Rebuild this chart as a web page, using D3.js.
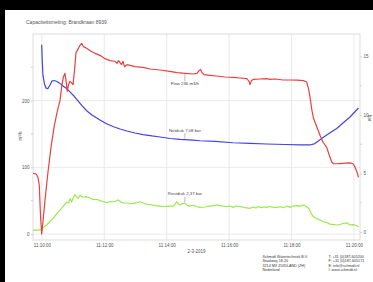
<!DOCTYPE html>
<html><head><meta charset="utf-8">
<script src="https://cdn.jsdelivr.net/npm/d3@7"></script>
<style>html,body{margin:0;padding:0;background:#000;}svg{display:block}</style>
</head><body>
<svg id="c" width="373" height="282"></svg>
<script>
// ---------- data ----------
const title = "Capaciteitsmeting: Brandkraan 8939";
const dateLabel = "2-3-2019";
const xTickLabels = ["11:10:00","11:12:00","11:14:00","11:16:00","11:18:00","11:20:00"];
const leftTicks = [0, 100, 200];
const leftMinorTicks = [50, 150, 250];
const rightTicks = [0, 5, 10, 15];
const rightMinorTicks = [2.5, 7.5, 12.5];
const leftTitle = "m³/h";
const rightTitle = "bar";
const companyLeft = ["Schmidt Watertechniek B.V.", "Staalweg 18-20", "3214 MX ZUIDLAND (ZH)", "Nederland"];
const companyRight = ["T: +31 (0)187-605200", "F: +31 (0)187-605171", "E: info@schmidt.nl", "I: www.schmidt.nl"];

// seconds after 11:10:00, value (m³/h)
const flow = [[-17,91],[-11,90],[-7.5,85],[-5,73],[-2.7,28],[-0.4,0],[2,18],[6,51],[11.7,93],[17.5,130],[23.3,160],[29,182],[34.8,200],[38.7,224],[41.5,236],[44.4,241],[46.9,227],[48.8,214],[51.2,224],[54,229],[56.9,227],[59.8,224],[62.7,245],[65.6,272],[70,278],[73.3,283],[76.5,286],[80,281],[82.9,280],[88.7,277],[94.4,274],[102,271],[111.7,268],[121.3,263],[131,260],[136.7,259.5],[140.6,259],[144.4,256],[147.3,260],[150.2,257],[153.1,254],[156,259],[158.8,251],[163.7,254],[169.4,253],[179,251],[194.4,250],[208,247.5],[227,246],[246,244],[260,242],[275,241],[290.6,240],[298.3,241],[302,245],[305,247],[308,242],[311.7,239],[323.3,238],[336,237],[352,235.5],[367.5,235],[381,234],[394,233],[398.3,229],[400.2,224],[403,230],[406.5,232],[419.4,232.5],[432.3,233],[438.7,232],[448.3,232.5],[464.2,231],[477,231],[490.6,230.7],[502.7,230],[509.2,228],[512.7,218],[515.6,205],[519.4,185],[522.3,173.5],[525.2,167.5],[529,160],[534.8,148],[540.6,137.6],[547.7,130],[552,119.6],[557.3,108],[560.4,105.7],[567.5,105.4],[573.3,105.7],[583,106.2],[592.5,106.6],[598.3,105.4],[602,100.6],[606,92.7],[608.8,85]];

// seconds after 11:10:00, value (bar)
const netdruk = [[-0.4,16],[0.6,14.7],[2,13.4],[5,12.65],[7.9,12.3],[11.7,12.26],[15.6,12.56],[19.4,12.9],[23.3,12.95],[29,12.86],[34.8,12.7],[40.6,12.48],[46.3,12.3],[54,11.97],[61.7,11.62],[69.4,11.2],[77,10.8],[86.7,10.34],[96.3,10],[111.7,9.57],[123.3,9.27],[136.7,9.02],[150.2,8.8],[163.7,8.63],[179,8.46],[194.4,8.33],[211.7,8.21],[227,8.12],[246.3,7.99],[265.6,7.91],[290.6,7.86],[304,7.8],[333,7.74],[367.5,7.63],[400.2,7.58],[432.3,7.52],[467.5,7.48],[496.3,7.44],[515.6,7.44],[525,7.56],[538.7,8.01],[552,8.42],[567,8.85],[579,9.32],[592.5,9.83],[608.8,10.6]];

const restdruk = [[-17,0.17],[-7.5,0.17],[-0.4,0.23],[4,0.43],[9.2,0.6],[15.6,0.9],[21.9,1.17],[28.5,1.58],[34.8,1.88],[40.6,2.18],[47.7,2.56],[51.2,2.48],[54,2.86],[57.3,2.59],[60.8,2.99],[63.7,3.21],[66.9,2.95],[70,2.88],[73.3,3.16],[76.5,3.03],[79.6,2.97],[84.8,3.03],[89.2,2.97],[94.4,2.86],[98.8,2.79],[106,2.78],[111.7,2.68],[117.5,2.61],[124.6,2.5],[131,2.61],[137.3,2.59],[142.5,2.65],[147,2.74],[152,2.56],[156.5,2.5],[163.7,2.48],[169.4,2.44],[175.8,2.45],[183,2.52],[188.7,2.59],[194.4,2.48],[201.5,2.37],[208,2.35],[217.5,2.26],[227,2.22],[236.7,2.18],[246.3,2.22],[252.7,2.22],[256,2.39],[259.2,2.59],[262.3,2.39],[265.6,2.31],[270.4,2.44],[275.2,2.45],[280,2.26],[284.8,2.22],[290.6,2.31],[296.3,2.18],[304,2.11],[313.7,2.14],[323.3,2.22],[331,2.26],[336.2,2.31],[342.5,2.26],[352,2.18],[361.7,2.22],[368,2.11],[373.3,2.22],[381,2.18],[390.6,2.09],[400.2,2.03],[406,2.14],[411.7,2.05],[416.5,2.18],[421.3,2.09],[427,2.14],[432.3,2.11],[438.7,2.18],[448.3,2.09],[458,2.16],[465.6,2.09],[471.3,2.22],[477,2.11],[483.5,2.22],[490.6,2.26],[496.3,2.22],[502.7,2.31],[509.2,2.16],[513.7,1.97],[517.5,1.62],[522,1.31],[528.5,1.15],[534.8,1.03],[541.2,0.88],[547.7,0.81],[554,0.68],[560.4,0.64],[567,0.6],[573.3,0.64],[579,0.73],[586.2,0.79],[589.6,0.68],[592.5,0.6],[598.3,0.64],[602,0.6],[608.8,0.45]];

const annotations = [
  {label: "Flow 236 m3/h", series: "flow", t: 275, below: true},
  {label: "Netdruk 7,08 bar", series: "netdruk", t: 275, below: false},
  {label: "Restdruk 2,37 bar", series: "restdruk", t: 275, below: false}
];

// ---------- drawing ----------
const svg = d3.select("#c");
const font = "'Liberation Sans', Arial, sans-serif";
const base = new Date(2019, 2, 2, 11, 10, 0);
const toDate = s => new Date(base.getTime() + s * 1000);

const L = 33, R = 360, T = 34, B = 240;

const x = d3.scaleTime().domain([toDate(-17.1), toDate(611.7)]).range([L, R]);
const yL = d3.scaleLinear().domain([-9, 300]).range([B, T]);
const yR = d3.scaleLinear().domain([-0.68, 16.92]).range([B, T]);

svg.append("rect").attr("x", 5).attr("y", 10).attr("width", 368).attr("height", 272).attr("fill", "#fff");

svg.append("text").attr("x", 26).attr("y", 24).attr("font-family", font).attr("font-size", 5)
  .attr("fill", "#555").text(title);

// grid
const xTickDates = xTickLabels.map(s => { const p = s.split(":").map(Number); return new Date(2019, 2, 2, p[0], p[1], p[2]); });
const g = svg.append("g");
g.selectAll(".vg").data(xTickDates).join("line")
  .attr("x1", d => x(d)).attr("x2", d => x(d)).attr("y1", T).attr("y2", B)
  .attr("stroke", "#e4e4e4").attr("stroke-width", 0.8);
g.selectAll(".hg").data(leftTicks).join("line")
  .attr("x1", L).attr("x2", R).attr("y1", d => yL(d)).attr("y2", d => yL(d))
  .attr("stroke", "#e4e4e4").attr("stroke-width", 0.8);
svg.append("rect").attr("x", L).attr("y", T).attr("width", R - L).attr("height", B - T)
  .attr("fill", "none").attr("stroke", "#d4d4d4").attr("stroke-width", 0.8);

// axes
function styleAxis(sel) {
  sel.select(".domain").attr("stroke", "#c8c8c8").attr("stroke-width", 0.8);
  sel.selectAll(".tick line").attr("stroke", "#c8c8c8").attr("stroke-width", 0.8);
  sel.selectAll(".tick text").attr("fill", "#555").attr("font-family", font).attr("font-size", 4.5);
}
const ax = svg.append("g").attr("transform", `translate(0,${B})`)
  .call(d3.axisBottom(x).tickValues(xTickDates).tickFormat((d, i) => xTickLabels[i]).tickSize(0).tickPadding(4));
styleAxis(ax); ax.select(".domain").remove();

const al = svg.append("g").attr("transform", `translate(${L},0)`)
  .call(d3.axisLeft(yL).tickValues(leftTicks).tickSize(2).tickPadding(1.5));
styleAxis(al);
al.select(".domain").remove();
al.selectAll(".minor").data(leftMinorTicks).join("line").attr("class", "minor")
  .attr("x1", -2).attr("x2", 0).attr("y1", d => yL(d)).attr("y2", d => yL(d))
  .attr("stroke", "#c8c8c8").attr("stroke-width", 0.8);

const ar = svg.append("g").attr("transform", `translate(${R},0)`)
  .call(d3.axisRight(yR).tickValues(rightTicks).tickSize(2).tickPadding(1.5));
styleAxis(ar);
ar.select(".domain").remove();
ar.selectAll(".minor").data(rightMinorTicks).join("line").attr("class", "minor")
  .attr("x1", 0).attr("x2", 2).attr("y1", d => yR(d)).attr("y2", d => yR(d))
  .attr("stroke", "#c8c8c8").attr("stroke-width", 0.8);

svg.append("text").attr("transform", `translate(22,136) rotate(-90)`).attr("text-anchor", "middle")
  .attr("font-family", font).attr("font-size", 4.5).attr("fill", "#555").text(leftTitle);
svg.append("text").attr("transform", `translate(368,118) rotate(90)`).attr("text-anchor", "middle")
  .attr("font-family", font).attr("font-size", 4.5).attr("fill", "#555").text(rightTitle);
svg.append("text").attr("x", (L + R) / 2).attr("y", 252.5).attr("text-anchor", "middle")
  .attr("font-family", font).attr("font-size", 4.5).attr("fill", "#555").text(dateLabel);

// lines
const series = {
  flow: {data: flow, y: yL, color: "#e8413f"},
  netdruk: {data: netdruk, y: yR, color: "#4343e6"},
  restdruk: {data: restdruk, y: yR, color: "#9be84c"}
};
const lines = svg.append("g");
for (const k of ["restdruk", "netdruk", "flow"]) {
  const s = series[k];
  lines.append("path").datum(s.data)
    .attr("d", d3.line().x(d => x(toDate(d[0]))).y(d => s.y(d[1])))
    .attr("fill", "none").attr("stroke", s.color).attr("stroke-width", 1.2)
    .attr("stroke-linejoin", "round");
}

// annotations
function valueAt(data, t) {
  for (let i = 1; i < data.length; i++) {
    if (data[i][0] >= t) {
      const a = data[i - 1], b = data[i];
      return a[1] + (b[1] - a[1]) * (t - a[0]) / (b[0] - a[0]);
    }
  }
  return data[data.length - 1][1];
}
for (const an of annotations) {
  const s = series[an.series];
  const px = x(toDate(an.t));
  const py = s.y(valueAt(s.data, an.t));
  const ty = an.below ? py + 12 : py - 8;
  svg.append("line").attr("x1", px).attr("x2", px)
    .attr("y1", an.below ? py + 1 : ty + 1.5).attr("y2", an.below ? ty - 4 : py - 1)
    .attr("stroke", "#777").attr("stroke-width", 0.5);
  svg.append("text").attr("x", px).attr("y", ty).attr("text-anchor", "middle")
    .attr("font-family", font).attr("font-size", 4.3).attr("fill", "#444").text(an.label);
}

// company block
svg.append("g").selectAll("text").data(companyLeft).join("text")
  .attr("x", 262.5).attr("y", (d, i) => 257.8 + i * 4.4)
  .attr("font-family", font).attr("font-size", 3.7).attr("fill", "#333").text(d => d);
svg.append("g").selectAll("text").data(companyRight).join("text")
  .attr("x", 328.5).attr("y", (d, i) => 257.8 + i * 4.4)
  .attr("font-family", font).attr("font-size", 3.7).attr("fill", "#333").text(d => d);
</script>
</body></html>
